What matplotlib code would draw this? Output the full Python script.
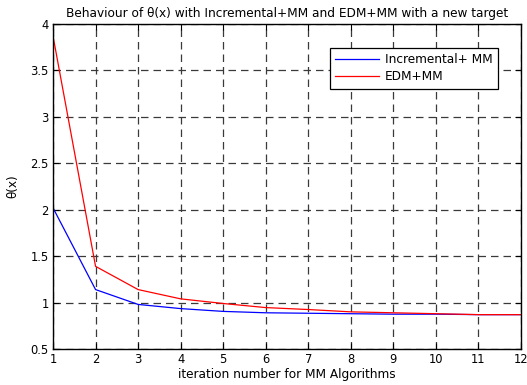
import matplotlib
matplotlib.use("Agg")
import matplotlib.pyplot as plt

plt.rcParams['font.family'] = ['DejaVu Sans']

iterations = [1, 2, 3, 4, 5, 6, 7, 8, 9, 10, 11, 12]
incremental_mm = [2.02, 1.14, 0.98, 0.935, 0.905, 0.89, 0.885, 0.88, 0.875, 0.875, 0.87, 0.87]
edm_mm = [3.87, 1.39, 1.14, 1.04, 0.99, 0.946, 0.925, 0.90, 0.89, 0.88, 0.87, 0.87]
xticks = list(range(1, 13))
yticks = [0.5, 1, 1.5, 2, 2.5, 3, 3.5, 4]

fig = plt.figure(figsize=(5.27, 3.85), dpi=100)
ax = fig.add_axes([0.1006, 0.0935, 0.888, 0.8442])
ax.plot(iterations, incremental_mm, color='blue', lw=0.9, label='Incremental+ MM')
ax.plot(iterations, edm_mm, color='red', lw=0.9, label='EDM+MM')
ax.set_xlim(1, 12)
ax.set_ylim(0.5, 4)
ax.set_xticks(xticks)
ax.set_yticks(yticks)
ax.set_yticklabels(['0.5', '1', '1.5', '2', '2.5', '3', '3.5', '4'])
ax.tick_params(direction='in', top=True, right=True, labelsize=8.3, length=4, color='black', pad=3)
ax.grid(True, color='#3a3a3a', linestyle=(0, (6, 4)), lw=0.9)
for s in ax.spines.values():
    s.set_color('black')
    s.set_linewidth(1.0)
ax.set_title('Behaviour of θ(x) with Incremental+MM and EDM+MM with a new target', fontsize=8.7, pad=5)
ax.set_xlabel('iteration number for MM Algorithms', fontsize=8.7, labelpad=1)
ax.set_ylabel('θ(x)', fontsize=8.7, labelpad=8)
leg = ax.legend(loc='upper right', bbox_to_anchor=(0.951, 0.926), fontsize=8.7, frameon=True,
                fancybox=False, edgecolor='black', framealpha=1, borderpad=0.45,
                handlelength=3.6, handletextpad=0.5, borderaxespad=0, labelspacing=0.3)
leg.get_frame().set_linewidth(0.9)
fig.savefig('out.png', dpi=100)
